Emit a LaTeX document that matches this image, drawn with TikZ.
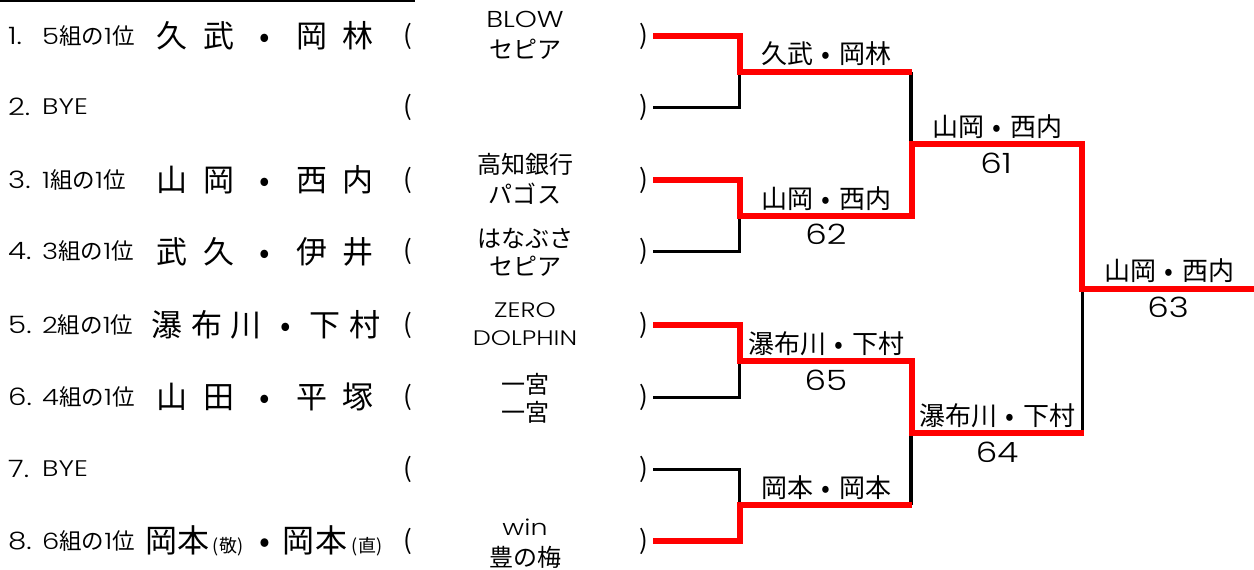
\documentclass[tikz,border=0pt]{standalone}
\usepackage{fontspec}
\setmainfont{Poppins}[UprightFont={* Light},FakeStretch=1.22]
\newfontfamily\cjk{Noto Sans CJK JP}
\newcommand{\fs}[1]{\fontsize{#1}{#1}\selectfont}
\newcommand{\jp}[1]{{\cjk #1}}
\newcommand{\dt}{\makebox[1em][c]{\cjk •}}
\newcommand{\ch}[2][46.5pt]{\makebox[#1][c]{\cjk #2}}
\tikzset{
  x=1pt,y=-1pt,
  redline/.style={draw=red,line width=5.5pt,miter limit=10},
  blackline/.style={draw=black,line width=3pt},
  numlabel/.style={anchor=west,inner sep=0pt,font=\fs{24}},
  grouplabel/.style={anchor=west,inner sep=0pt,font=\fs{22.5}},
  namelabel/.style={anchor=center,inner sep=0pt,font=\fs{31}},
  teamlabel/.style={anchor=center,inner sep=0pt,font=\fs{24}},
  paren/.style={anchor=center,inner sep=0pt,font=\fs{26}},
  winlabel/.style={anchor=center,inner sep=0pt,font=\fs{26}},
  score/.style={anchor=center,inner sep=0pt,font=\fs{28}},
}
\begin{document}
\begin{tikzpicture}
\useasboundingbox (0,0) rectangle (1254,570);
\coordinate (topa) at (0,1);
\coordinate (topb) at (415,1);
\draw[line width=1.5pt] (topa) -- (topb);
% rows
\foreach \n/\y/\g in {1/36/5{\cjk 組の}1{\cjk 位},2/107/BYE,3/180/1{\cjk 組の}1{\cjk 位},4/251/3{\cjk 組の}1{\cjk 位},5/325/2{\cjk 組の}1{\cjk 位},6/397/4{\cjk 組の}1{\cjk 位},7/469/BYE,8/541/6{\cjk 組の}1{\cjk 位}}{
  \node[numlabel] (num\n) at (8,\y) {\n.};
  \node[grouplabel] (grp\n) at (42,\y) {\g};
  \node[paren] (lp\n) at (407.5,\y) {\jp{(}};
  \node[paren] (rp\n) at (643.5,\y) {\jp{)}};
  \coordinate (s\n) at (653,\y);
}
\node[namelabel] (name1) at (265,36) {\ch{久}\ch{武}\makebox[46.5pt][c]{\cjk •}\ch{岡}\ch{林}};
\node[namelabel] (name3) at (265,180) {\ch{山}\ch{岡}\makebox[46.5pt][c]{\cjk •}\ch{西}\ch{内}};
\node[namelabel] (name4) at (265,252) {\ch{武}\ch{久}\makebox[46.5pt][c]{\cjk •}\ch{伊}\ch{井}};
\node[namelabel] (name5) at (266,325) {\ch[39.5pt]{瀑}\ch[39.5pt]{布}\ch[39.5pt]{川}\makebox[39.5pt][c]{\cjk •}\ch[39.5pt]{下}\ch[39.5pt]{村}};
\node[namelabel] (name6) at (265,397) {\ch{山}\ch{田}\makebox[46.5pt][c]{\cjk •}\ch{平}\ch{塚}};
\node[namelabel,font=\fs{32}] (name8) at (265,541) {\ch[32pt]{岡}\ch[32pt]{本}\makebox[38pt][c]{\fs{18}\cjk(敬)}\makebox[36pt][c]{\cjk •}\ch[32pt]{岡}\ch[34pt]{本}\makebox[36pt][c]{\fs{18}\cjk(直)}};
% teams
\node[teamlabel,font=\fs{23}] (t1a) at (525,19) {BLOW};
\node[teamlabel] (t1b) at (525,49) {\cjk セピア};
\node[teamlabel] (t3a) at (525,164) {\cjk 高知銀行};
\node[teamlabel] (t3b) at (525,194) {\cjk パゴス};
\node[teamlabel] (t4a) at (525,238) {\cjk はなぶさ};
\node[teamlabel] (t4b) at (525,266) {\cjk セピア};
\node[teamlabel,font=\fs{21}] (t5a) at (525,310) {ZERO};
\node[teamlabel,font=\fs{21}] (t5b) at (525,338) {DOLPHIN};
\node[teamlabel] (t6a) at (525,384) {\cjk 一宮};
\node[teamlabel] (t6b) at (525,412) {\cjk 一宮};
\node[teamlabel,font=\fs{22}] (t8a) at (525,527) {win};
\node[teamlabel] (t8b) at (525,557) {\cjk 豊の梅};
% bracket points
\coordinate (a1) at (740,72);
\coordinate (a2) at (740,216);
\coordinate (a3) at (740,361);
\coordinate (a4) at (740,505);
\coordinate (a1k) at (739,72);
\coordinate (a2k) at (739,216);
\coordinate (a3k) at (739,361);
\coordinate (a4k) at (739,505);
\coordinate (b1) at (912,72);
\coordinate (b2) at (912,216);
\coordinate (b3) at (912,361);
\coordinate (b4) at (912,505);
\coordinate (c1) at (912,144);
\coordinate (c2) at (912,433);
\coordinate (b1k) at (911,72);
\coordinate (c1k) at (911,144);
\coordinate (b4k) at (911,505);
\coordinate (c2k) at (911,433);
\coordinate (d1) at (1082,144);
\coordinate (d2) at (1082,433);
\coordinate (d2r) at (1084,433);
\coordinate (e) at (1082,289);
\coordinate (f) at (1254,289);
% black
\draw[blackline] (s2) -| (a1k);
\draw[blackline] (s4) -| (a2k);
\draw[blackline] (s6) -| (a3k);
\draw[blackline] (s7) -| (a4k);
\draw[blackline,line width=3.5pt] (b1k) -- (c1k);
\draw[blackline,line width=3.5pt] (b4k) -- (c2k);
\draw[blackline] (d2) -- (e);
% red
\draw[redline] (s1) -| (a1) -- (b1);
\draw[redline] (s3) -| (a2) -- (b2) -- (c1) -- (d1) -- (e) -- (f);
\draw[redline] (s5) -| (a3) -- (b3) -- (c2) -- (d2r);
\draw[redline] (s8) -| (a4) -- (b4);
% winners
\node[winlabel] (w1) at (826,54) {\cjk 久武\dt 岡林};
\node[winlabel] (w2) at (826,199) {\cjk 山岡\dt 西内};
\node[score] (n62) at (826,234) {62};
\node[winlabel] (w3) at (826,344) {\cjk 瀑布川\dt 下村};
\node[score] (n65) at (826,380) {65};
\node[winlabel] (w4) at (826,488) {\cjk 岡本\dt 岡本};
\node[winlabel] (w5) at (997,127) {\cjk 山岡\dt 西内};
\node[score] (n61) at (996,163) {61};
\node[winlabel] (w6) at (997,416) {\cjk 瀑布川\dt 下村};
\node[score] (n64) at (997,452) {64};
\node[winlabel] (w7) at (1169,271) {\cjk 山岡\dt 西内};
\node[score] (n63) at (1168,307) {63};
\end{tikzpicture}
\end{document}
